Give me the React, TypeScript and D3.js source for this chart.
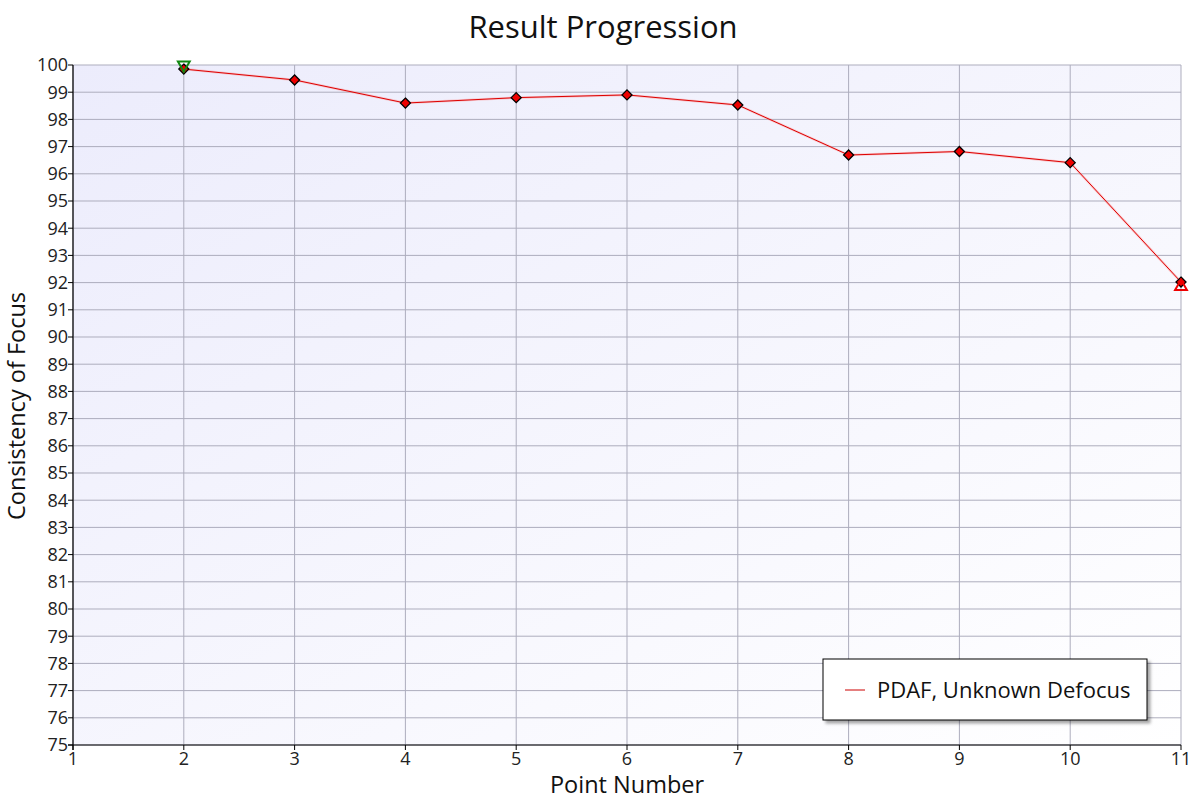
import React from "react";
import * as d3 from "d3";

const pointNumbers = [2, 3, 4, 5, 6, 7, 8, 9, 10, 11];
const focusValues = [99.85, 99.45, 98.6, 98.8, 98.9, 98.53, 96.69, 96.82, 96.41, 92.02];
const xTicks = [1, 2, 3, 4, 5, 6, 7, 8, 9, 10, 11];
const yTicks = d3.range(75, 101, 1);
const maxMarker = { x: 2, y: 100 };
const minMarker = { x: 11, y: 91.85 };
const seriesName = "PDAF, Unknown Defocus";

const W = 1200, H = 800;
const M = { left: 73, right: 1181, top: 65, bottom: 745 };
const FONT = "'Open Sans', sans-serif";

export default function App() {
  const x = d3.scaleLinear().domain([1, 11]).range([M.left, M.right]);
  const y = d3.scaleLinear().domain([75, 100]).range([M.bottom, M.top]);
  const line = d3.line<number>().x((_, i) => x(pointNumbers[i])).y((d) => y(d));
  const diamond = d3.symbol().type(d3.symbolDiamond2).size(64)();
  const tri = d3.symbol().type(d3.symbolTriangle2).size(100)();

  return (
    <svg width={W} height={H} style={{ position: "absolute", left: 0, top: 0 }} fontFamily={FONT}>
      <defs>
        <linearGradient id="bg" x1="0" y1="0" x2="1" y2="1">
          <stop offset="0" stopColor="#ececfc" />
          <stop offset="1" stopColor="#ffffff" />
        </linearGradient>
        <filter id="sh" x="-10%" y="-10%" width="130%" height="140%">
          <feDropShadow dx="3" dy="3" stdDeviation="1.5" floodColor="#000" floodOpacity="0.35" />
        </filter>
      </defs>
      <rect width={W} height={H} fill="#fff" />
      <rect x={M.left} y={M.top} width={M.right - M.left} height={M.bottom - M.top} fill="url(#bg)" />
      {yTicks.map((t) => (
        <line key={"gy" + t} x1={M.left} x2={M.right} y1={y(t)} y2={y(t)} stroke="#adadbd" strokeWidth={1} />
      ))}
      {xTicks.map((t) => (
        <line key={"gx" + t} x1={x(t)} x2={x(t)} y1={M.top} y2={M.bottom} stroke="#adadbd" strokeWidth={1} />
      ))}
      {/* axes */}
      <line x1={M.left} x2={M.left} y1={M.top} y2={M.bottom + 5} stroke="#000" strokeWidth={1.2} />
      <line x1={M.left - 5} x2={M.right} y1={M.bottom} y2={M.bottom} stroke="#000" strokeWidth={1.2} />
      {yTicks.map((t) => (
        <g key={"ty" + t}>
          <line x1={M.left - 5} x2={M.left} y1={y(t)} y2={y(t)} stroke="#000" />
          <text x={M.left - 5} y={y(t)} dy="0.36em" textAnchor="end" fontSize={18} fill="#222">{t}</text>
        </g>
      ))}
      {xTicks.map((t) => (
        <g key={"tx" + t}>
          <line x1={x(t)} x2={x(t)} y1={M.bottom} y2={M.bottom + 5} stroke="#000" />
          <text x={x(t)} y={M.bottom + 20} textAnchor="middle" fontSize={18} fill="#222">{t}</text>
        </g>
      ))}
      <text x={603} y={38} textAnchor="middle" fontSize={31} fill="#111">Result Progression</text>
      <text x={627} y={793} textAnchor="middle" fontSize={23.5} fill="#111">Point Number</text>
      <text transform={`translate(25,406) rotate(-90)`} textAnchor="middle" fontSize={23.5} fill="#111">Consistency of Focus</text>
      {/* series */}
      <path d={line(focusValues) || ""} fill="none" stroke="#ff8080" strokeWidth={2.5} opacity={0.35} />
      <path d={line(focusValues) || ""} fill="none" stroke="#dd0000" strokeWidth={1} />
      {focusValues.map((v, i) => (
        <path key={"p" + i} d={diamond} transform={`translate(${x(pointNumbers[i])},${y(v)})`} fill="#ee0000" stroke="#000" strokeWidth={1.3} />
      ))}
      <path d={tri} transform={`translate(${x(maxMarker.x)},${y(maxMarker.y)}) rotate(180)`} fill="none" stroke="#118811" strokeWidth={2} />
      <path d={tri} transform={`translate(${x(minMarker.x)},${y(minMarker.y)})`} fill="none" stroke="#ee0000" strokeWidth={2} />
      {/* legend */}
      <rect x={823} y={659} width={324} height={61} fill="#fff" stroke="#000" strokeWidth={1} filter="url(#sh)" />
      <line x1={845} x2={865} y1={690} y2={690} stroke="#cc0000" strokeWidth={1} />
      <text x={877} y={690} dy="0.36em" fontSize={22} fill="#111">{seriesName}</text>
    </svg>
  );
}
